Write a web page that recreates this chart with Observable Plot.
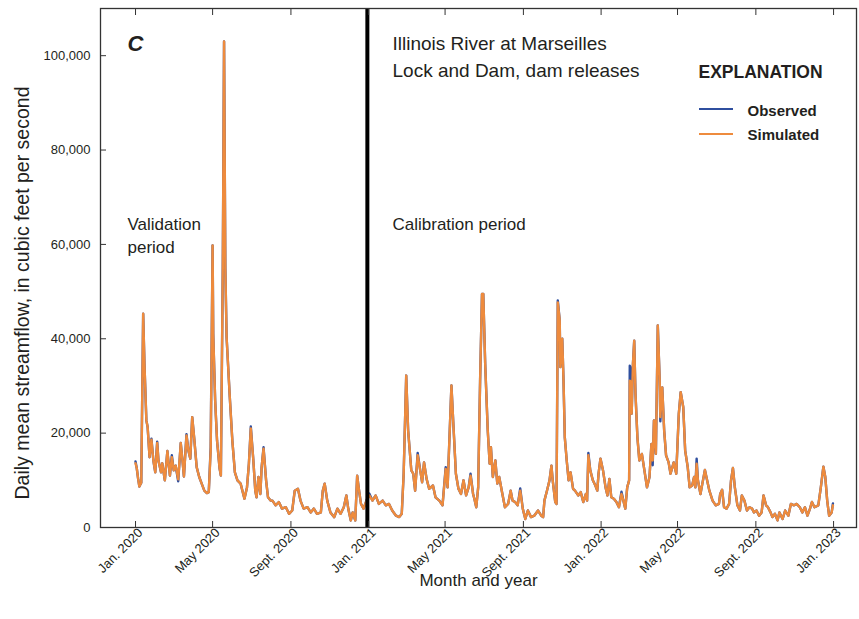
<!DOCTYPE html>
<html>
<head>
<meta charset="utf-8">
<script src="https://cdn.jsdelivr.net/npm/d3@7"></script>
<script src="https://cdn.jsdelivr.net/npm/@observablehq/plot@0.6"></script>
<style>
  html, body { margin: 0; padding: 0; background: #fff; }
  #wrap { position: relative; width: 859px; height: 619px; font-family: "Liberation Sans", Arial, sans-serif; }
  .sw { position: absolute; height: 2px; width: 34px; }
</style>
</head>
<body>
<div id="wrap"></div>
<script>
// ---- data ----
const dates = [
  "2020-01-01","2020-01-03","2020-01-05","2020-01-07","2020-01-10","2020-01-13","2020-01-15","2020-01-18","2020-01-20","2020-01-23","2020-01-26","2020-01-29",
  "2020-02-01","2020-02-04","2020-02-06","2020-02-10","2020-02-12","2020-02-16","2020-02-20","2020-02-24","2020-02-27",
  "2020-03-01","2020-03-04","2020-03-08","2020-03-12","2020-03-15","2020-03-17","2020-03-21","2020-03-24","2020-03-27","2020-03-30",
  "2020-04-02","2020-04-06","2020-04-10","2020-04-13","2020-04-18","2020-04-22","2020-04-25","2020-04-28",
  "2020-05-01","2020-05-02","2020-05-05","2020-05-08","2020-05-12","2020-05-14","2020-05-17","2020-05-19","2020-05-21","2020-05-23","2020-05-28",
  "2020-06-01","2020-06-05","2020-06-09","2020-06-14","2020-06-20","2020-06-24","2020-06-27","2020-06-30",
  "2020-07-04","2020-07-07","2020-07-09","2020-07-12","2020-07-15","2020-07-17","2020-07-20","2020-07-24","2020-07-27","2020-07-31",
  "2020-08-03","2020-08-08","2020-08-13","2020-08-18","2020-08-24","2020-08-29",
  "2020-09-03","2020-09-07","2020-09-12","2020-09-16","2020-09-21","2020-09-27",
  "2020-10-02","2020-10-07","2020-10-12","2020-10-18","2020-10-21","2020-10-24","2020-10-28",
  "2020-11-02","2020-11-08","2020-11-13","2020-11-18","2020-11-23","2020-11-27","2020-11-30",
  "2020-12-04","2020-12-07","2020-12-11","2020-12-14","2020-12-17","2020-12-20","2020-12-24","2020-12-28",
  "2021-01-02","2021-01-07","2021-01-12","2021-01-17","2021-01-23","2021-01-28",
  "2021-02-02","2021-02-07","2021-02-13","2021-02-18","2021-02-22","2021-02-25",
  "2021-03-01","2021-03-04","2021-03-09","2021-03-12","2021-03-15","2021-03-19","2021-03-23","2021-03-26","2021-03-29",
  "2021-04-02","2021-04-06","2021-04-12","2021-04-16","2021-04-22","2021-04-27",
  "2021-05-02","2021-05-05","2021-05-11","2021-05-14","2021-05-18","2021-05-22","2021-05-26","2021-05-30",
  "2021-06-03","2021-06-07","2021-06-10","2021-06-14","2021-06-16","2021-06-19","2021-06-22","2021-06-25","2021-06-28","2021-06-30",
  "2021-07-03","2021-07-07","2021-07-10","2021-07-12","2021-07-15","2021-07-19","2021-07-22","2021-07-25","2021-07-30",
  "2021-08-03","2021-08-08","2021-08-12","2021-08-15","2021-08-19","2021-08-23","2021-08-27","2021-08-31",
  "2021-09-04","2021-09-08","2021-09-13","2021-09-18","2021-09-24","2021-09-29",
  "2021-10-02","2021-10-04","2021-10-08","2021-10-12","2021-10-15","2021-10-17","2021-10-21","2021-10-23","2021-10-25","2021-10-28","2021-10-29",
  "2021-11-01","2021-11-03","2021-11-05","2021-11-08","2021-11-11","2021-11-14","2021-11-18","2021-11-21","2021-11-26","2021-11-30",
  "2021-12-04","2021-12-08","2021-12-10","2021-12-12","2021-12-15","2021-12-19","2021-12-23","2021-12-26","2021-12-28","2021-12-31",
  "2022-01-04","2022-01-08","2022-01-11","2022-01-14","2022-01-17","2022-01-21","2022-01-25","2022-01-29",
  "2022-02-02","2022-02-05","2022-02-08","2022-02-11","2022-02-14","2022-02-15","2022-02-16","2022-02-18","2022-02-20","2022-02-22","2022-02-24","2022-02-27",
  "2022-03-02","2022-03-06","2022-03-10","2022-03-14","2022-03-18","2022-03-21","2022-03-23","2022-03-25","2022-03-28","2022-03-31",
  "2022-04-03","2022-04-04","2022-04-07","2022-04-10","2022-04-13","2022-04-17","2022-04-20","2022-04-25","2022-04-29",
  "2022-05-03","2022-05-06","2022-05-10","2022-05-13","2022-05-17","2022-05-20","2022-05-24","2022-05-27","2022-05-29","2022-05-31",
  "2022-06-02","2022-06-06","2022-06-09","2022-06-13","2022-06-16","2022-06-20","2022-06-25","2022-06-30",
  "2022-07-05","2022-07-07","2022-07-10","2022-07-13","2022-07-17","2022-07-21","2022-07-24","2022-07-27","2022-07-30",
  "2022-08-03","2022-08-07","2022-08-10","2022-08-14","2022-08-18","2022-08-22","2022-08-26","2022-08-29",
  "2022-09-02","2022-09-06","2022-09-10","2022-09-13","2022-09-17","2022-09-20","2022-09-24","2022-09-27",
  "2022-10-01","2022-10-05","2022-10-08","2022-10-13","2022-10-17","2022-10-22","2022-10-26","2022-10-31",
  "2022-11-04","2022-11-09","2022-11-13","2022-11-17","2022-11-21","2022-11-25","2022-11-28",
  "2022-12-02","2022-12-08","2022-12-12","2022-12-16","2022-12-19","2022-12-22","2022-12-25","2022-12-29","2022-12-31"
];

const simulated = [
  13600,12500,10400,8700,9500,45300,34700,22700,21300,14900,18600,14200,
  11700,17900,14200,11700,13600,10000,16200,11000,14900,
  12100,13100,10200,17900,13800,10800,19500,16300,14600,23400,
  19100,12800,10700,9600,7800,7300,7500,16300,
  59800,41000,27000,18400,12500,11000,55000,103000,55000,40300,27600,
  18400,11700,10000,9300,6100,8500,13500,21000,
  14200,7800,6400,10700,7100,12800,16700,10000,6400,5700,
  5700,4700,5400,4000,4300,2900,
  3600,7800,8200,5700,4000,4300,
  3200,4000,2900,3200,7800,9300,5700,
  3200,2200,4000,2900,4300,6800,4000,
  1500,3200,1500,11000,7800,5000,4000,5500,
  6800,5700,6800,5000,5700,4700,
  5000,3600,2500,2200,2900,11400,
  32200,20600,12100,11400,7800,15300,12100,9600,13800,
  10300,8200,8900,6400,5700,4700,
  12400,8500,30100,22000,11400,8200,7100,10000,
  6800,8500,11000,7100,6100,4300,8500,31000,49500,49500,
  34700,20600,13500,17000,10700,14200,9300,10700,7100,
  4300,5000,7800,5700,5400,4700,7800,4000,
  1800,3600,2200,2500,3600,2500,
  2200,5700,7800,10000,13100,10000,5400,5000,47700,43900,34000,
  40000,31100,19100,14200,10000,11700,8200,7800,6800,7500,
  5400,7100,5700,15300,12100,10000,8900,7800,11400,14600,
  12100,8500,6800,10300,6400,6100,5400,4300,
  7100,5700,4000,8500,10000,31100,31000,24100,34700,39600,28300,19100,
  14200,15600,12100,8500,10700,17700,14200,22700,15600,42800,
  31100,23400,29700,20600,15300,13800,11400,13800,11400,
  24100,28700,25500,16300,12800,8500,8900,10700,8500,13500,
  10000,7100,9300,12200,10300,7800,5700,4700,
  5000,7100,8000,4300,4000,5000,10000,12600,8500,
  4700,3600,6800,5700,3600,4300,4000,3200,
  3600,2500,3200,6800,4700,4300,3200,2200,
  2900,1500,3200,1800,3600,2500,5000,4700,
  5000,4300,3200,4300,2500,4000,5400,
  4300,4700,8500,12900,10700,5700,2500,3200,4700
];

const observed = [
  14000,12500,10400,8700,9500,45300,34700,22700,21300,14900,18800,14200,
  11700,18200,14200,11700,13600,10000,16200,11000,15300,
  12100,13100,9800,17900,13800,10800,19800,16300,14600,23400,
  19100,12800,10700,9600,7800,7300,7500,17000,
  59800,41000,27000,18400,12500,11000,55000,103000,55000,40300,27600,
  18400,11700,10000,9300,6100,8500,13500,21400,
  14200,7800,6400,10700,7100,12800,17000,10000,6400,5700,
  5700,4700,5400,4000,4300,2900,
  3600,7800,8200,5700,4000,4300,
  3200,4000,2900,3200,7800,9300,5700,
  3200,2200,4000,2900,4300,6800,4000,
  1500,3200,1500,11000,7800,5000,4000,5500,
  7200,5700,6800,5000,5700,4700,
  5000,3600,2500,2200,2900,11400,
  32200,20600,12100,11400,7800,15800,12100,9600,13800,
  10300,8200,8900,6400,5700,4700,
  12800,8500,30100,22000,11400,8200,7100,10000,
  6800,8500,11400,7100,6100,4300,8500,31000,49500,49500,
  34700,20600,13500,17000,10700,14200,9300,10700,7100,
  4300,5000,7800,5700,5400,4700,8300,4000,
  1800,3600,2200,2500,3600,2500,
  2200,5700,7800,10000,13100,10000,5400,5000,48100,43900,34000,
  40000,31100,19100,14200,10000,11700,8200,7800,6800,7500,
  5400,7100,5700,15800,12100,10000,8900,7800,11400,14600,
  12100,8500,6800,10300,6400,6100,5400,4300,
  7600,5700,4000,8500,10000,34300,34000,24100,34700,39600,28300,19100,
  14200,15600,12100,8500,10700,17700,13200,22700,15600,42800,
  31100,22500,29700,20600,15300,13800,11400,13800,11400,
  24100,28700,25500,16300,12800,8500,8900,10700,8500,14600,
  10000,7100,9300,12200,10300,7800,5700,4700,
  5000,7100,8000,4300,4000,5000,10000,12600,8500,
  4700,3600,6800,5700,3600,4300,4000,3200,
  3600,2500,3200,6800,4700,4300,3200,2200,
  2900,1500,3200,1800,3600,2500,5000,4700,
  5000,4300,3200,4300,2500,4000,5400,
  4300,4700,8500,12900,10700,5700,2500,3200,5100
];

const xTickDates = ["2020-01-01","2020-05-01","2020-09-01","2021-01-01","2021-05-01","2021-09-01","2022-01-01","2022-05-01","2022-09-01","2023-01-01"];
const xTickLabels = ["Jan. 2020","May 2020","Sept. 2020","Jan. 2021","May 2021","Sept. 2021","Jan. 2022","May 2022","Sept. 2022","Jan. 2023"];
const yTicks = [0, 20000, 40000, 60000, 80000, 100000];
const periodSplit = ["2020-12-30"];
const seriesNames = ["Observed", "Simulated"];
const seriesColors = ["#2f4f9f", "#ee8b3d"];

// ---- build ----
const data = dates.map((d, i) => ({date: new Date(d), observed: observed[i], simulated: simulated[i]}));
const xTicks = xTickDates.map(d => new Date(d));
const labelMap = new Map(xTicks.map((d, i) => [+d, xTickLabels[i]]));
const ink = "#231f20";

const chart = Plot.plot({
  width: 859,
  height: 619,
  marginLeft: 100,
  marginRight: 3,
  marginTop: 8,
  marginBottom: 92,
  style: {fontFamily: '"Liberation Sans", Arial, sans-serif', fontSize: "13px", color: ink, background: "#fff"},
  x: {type: "utc", domain: [new Date("2019-11-07"), new Date("2023-02-06")]},
  y: {domain: [0, 110000]},
  marks: [
    Plot.lineY(data, {x: "date", y: "observed", stroke: seriesColors[0], strokeWidth: 2.4}),
    Plot.lineY(data, {x: "date", y: "simulated", stroke: seriesColors[1], strokeWidth: 2.4}),
    Plot.ruleX(periodSplit.map(d => new Date(d)), {stroke: "#000", strokeWidth: 4}),
    Plot.frame({stroke: "#333", strokeWidth: 1.3}),
    // inside ticks
    Plot.axisX(xTicks, {anchor: "bottom", tickSize: 6, dy: -6, fill: "none", label: null, stroke: "#333"}),
    Plot.axisX(xTicks, {anchor: "top", tickSize: 6, dy: 6, fill: "none", label: null, stroke: "#333"}),
    Plot.axisY(yTicks, {anchor: "left", tickSize: 6, dx: 6, fill: "none", label: null, stroke: "#333"}),
    // tick labels
    Plot.axisX(xTicks, {anchor: "bottom", tickSize: 0, tickPadding: 3, dx: 5, tickRotate: -45, tickFormat: d => labelMap.get(+d), label: null, fontSize: 13}),
    Plot.axisY(yTicks, {anchor: "left", tickSize: 0, tickPadding: 10, tickFormat: d3.format(","), label: null, fontSize: 13}),
    // axis titles
    Plot.text(["Daily mean streamflow, in cubic feet per second"], {frameAnchor: "left", rotate: -90, dx: -78, dy: 25, fontSize: 19.5, textAnchor: "middle", fill: ink}),
    Plot.text(["Month and year"], {frameAnchor: "bottom", dy: 58, lineAnchor: "bottom", fontSize: 17, fill: ink}),
    // annotations
    Plot.text(["C"], {frameAnchor: "top-left", dx: 27, dy: 42, lineAnchor: "bottom", textAnchor: "start", fontSize: 22, fontWeight: "bold", fontStyle: "italic", fill: ink}),
    Plot.text(["Illinois River at Marseilles\nLock and Dam, dam releases"], {frameAnchor: "top-left", dx: 292, dy: 68, lineAnchor: "bottom", textAnchor: "start", fontSize: 19, lineHeight: 1.37, fill: ink}),
    Plot.text(["Validation\nperiod"], {frameAnchor: "top-left", dx: 27, dy: 244, lineAnchor: "bottom", textAnchor: "start", fontSize: 17, lineHeight: 1.35, fill: ink}),
    Plot.text(["Calibration period"], {frameAnchor: "top-left", dx: 292, dy: 221, lineAnchor: "bottom", textAnchor: "start", fontSize: 17, fill: ink}),
    Plot.text(["EXPLANATION"], {frameAnchor: "top-left", dx: 598, dy: 69, lineAnchor: "bottom", textAnchor: "start", fontSize: 17.5, fontWeight: "bold", fill: ink}),
    Plot.text([seriesNames[0]], {frameAnchor: "top-left", dx: 647, dy: 107, lineAnchor: "bottom", textAnchor: "start", fontSize: 15, fontWeight: "bold", fill: ink}),
    Plot.text([seriesNames[1]], {frameAnchor: "top-left", dx: 647, dy: 131, lineAnchor: "bottom", textAnchor: "start", fontSize: 15, fontWeight: "bold", fill: ink})
  ]
});

const wrap = document.getElementById("wrap");
wrap.appendChild(chart);
// legend swatches
[[108, seriesColors[0]], [133, seriesColors[1]]].forEach(([top, c]) => {
  const s = document.createElement("div");
  s.className = "sw";
  s.style.left = "699px";
  s.style.top = top + "px";
  s.style.background = c;
  wrap.appendChild(s);
});
</script>
</body>
</html>
